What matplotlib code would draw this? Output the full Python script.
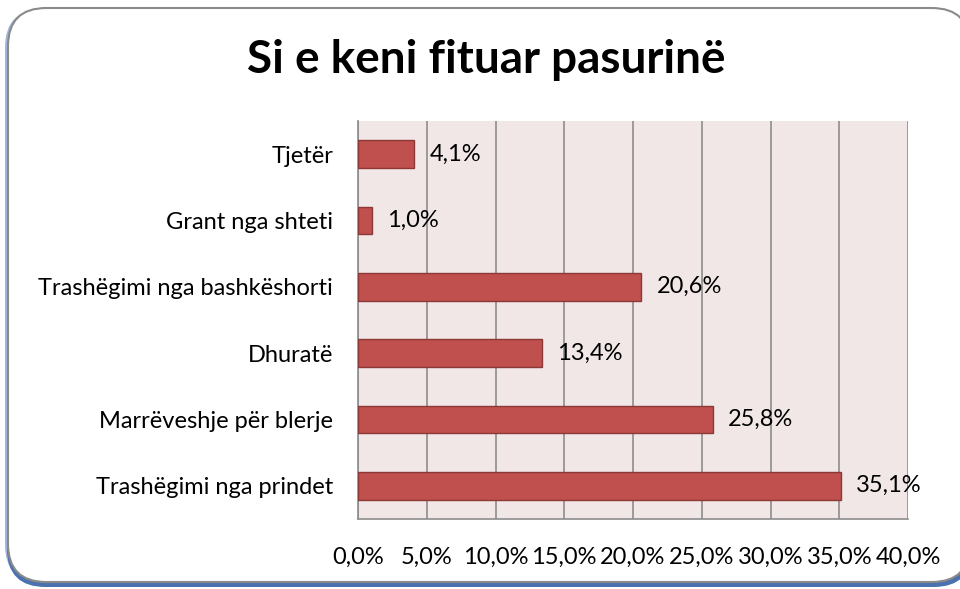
import matplotlib.pyplot as plt
from matplotlib.patches import FancyBboxPatch
from matplotlib.ticker import MultipleLocator, FuncFormatter

categories = ['Trashëgimi nga prindet', 'Marrëveshje për blerje', 'Dhuratë',
              'Trashëgimi nga bashkëshorti', 'Grant nga shteti', 'Tjetër']
values = [35.1, 25.8, 13.4, 20.6, 1.0, 4.1]

plt.rcParams['font.family'] = ['Lato', 'DejaVu Sans']

fig = plt.figure(figsize=(9.6, 5.89), dpi=100)

# rounded frame (runs off the right edge) with a blue shadow
W, H = 960, 589
shadow_left = FancyBboxPatch((5 / W, 6 / H), 965 / W, 574 / H,
                             boxstyle='round,pad=0,rounding_size=0.04',
                             transform=fig.transFigure, facecolor='#9FB6DA',
                             edgecolor='none', zorder=0, mutation_aspect=W / H)
shadow = FancyBboxPatch((7 / W, 2 / H), 965 / W, 574 / H,
                        boxstyle='round,pad=0,rounding_size=0.04',
                        transform=fig.transFigure, facecolor='#4A72B0',
                        edgecolor='none', zorder=0, mutation_aspect=W / H)
frame = FancyBboxPatch((8 / W, 7 / H), 962 / W, 574 / H,
                       boxstyle='round,pad=0,rounding_size=0.04',
                       transform=fig.transFigure, facecolor='white',
                       edgecolor='#8A8A8A', linewidth=1.5, zorder=1, mutation_aspect=W / H)
fig.patches.extend([shadow_left, shadow, frame])

ax = fig.add_axes([358 / W, 1 - 519 / H, 550 / W, 398 / H])
ax.set_zorder(2)
ax.set_facecolor('#F2E7E7')

y = range(len(categories))
ax.barh(y, values, height=0.42, color='#C0504D', edgecolor='#8C3836', linewidth=1, zorder=3)

for yi, v in zip(y, values):
    ax.text(v + 1.1, yi, f'{v:.1f}%'.replace('.', ','), va='center', ha='left',
            fontsize=17, color='black', zorder=4)

ax.set_xlim(0, 40)
ax.set_ylim(-0.5, len(categories) - 0.5)
ax.xaxis.set_major_locator(MultipleLocator(5))
ax.xaxis.set_major_formatter(FuncFormatter(lambda x, p: f'{x:.1f}%'.replace('.', ',')))
ax.grid(axis='x', color='#8C8C8C', linewidth=1.2, zorder=1)
ax.set_yticks(list(y))
ax.set_yticklabels(categories)
ax.tick_params(axis='x', length=0, pad=20, labelsize=17)
ax.tick_params(axis='y', length=0, pad=18, labelsize=17)
for s in ['top', 'right']:
    ax.spines[s].set_visible(False)
for s in ['left', 'bottom']:
    ax.spines[s].set_color('#8C8C8C')
    ax.spines[s].set_linewidth(1.2)

fig.text(486 / W, 1 - 60 / H, 'Si e keni fituar pasurinë', ha='center', va='center',
         fontsize=33, fontweight='bold', zorder=5)

fig.savefig('out.png', dpi=100)
